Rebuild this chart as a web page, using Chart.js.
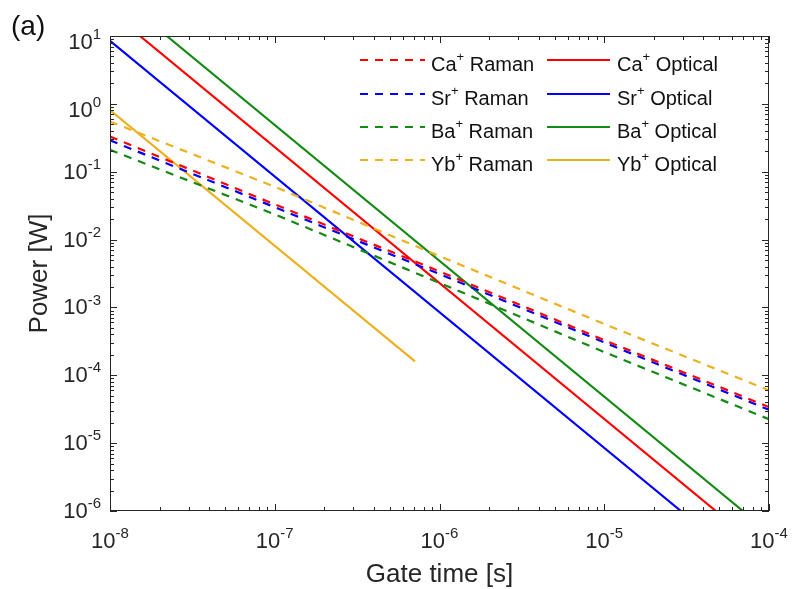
<!DOCTYPE html>
<html>
<head>
<meta charset="utf-8">
<title>Power vs gate time</title>
<script src="https://cdn.jsdelivr.net/npm/chart.js@4.4.0/dist/chart.umd.min.js"></script>
<style>
	html, body { margin: 0; padding: 0; background: #fff; }
	canvas { display: block; }
</style>
</head>
<body>
<canvas id="chart" width="792" height="589"></canvas>
<script>
(() => {
	'use strict'

	// Gate times (s) where the Raman curves are sampled
	const ramanTimes = [1e-8, 1e-7, 1e-6, 1e-5, 1e-4];

	// Raman laser power (W)
	const caRaman = [0.33, 0.033, 3.4e-3, 3.3e-4, 3.4e-5];
	const srRaman = [0.29, 0.030, 3.1e-3, 3.05e-4, 3.1e-5];
	const baRaman = [0.21, 0.0235, 2.3e-3, 2.2e-4, 2.25e-5];
	const ybRaman = [0.55, 0.060, 5.7e-3, 5.7e-4, 6.0e-5];

	// Optical (quadrupole) power: first and last point of each line
	const caOpticalTimes = [1.52e-8, 4.76e-5];
	const caOptical = [10, 1e-6];
	const srOpticalTimes = [1e-8, 2.92e-5];
	const srOptical = [8.5, 1e-6];
	const baOpticalTimes = [2.21e-8, 6.95e-5];
	const baOptical = [10, 1e-6];
	const ybOpticalTimes = [1e-8, 7.1e-7];
	const ybOptical = [0.81, 1.6e-4];

	// Ions, in legend order
	const ions = ['Ca', 'Sr', 'Ba', 'Yb'];

	// Decade exponents for the tick labels
	const xTickExps = [-8, -7, -6, -5, -4];
	const yTickExps = [-6, -5, -4, -3, -2, -1, 0, 1];

	const colors = {
		Ca: '#ff0000',
		Sr: '#0000ff',
		Ba: '#138a13',
		Yb: '#edb120'
	};
	const axisColor = '#262626';
	const fontFamily = '"Liberation Sans", Arial, Helvetica, sans-serif';

	// Pair up x and y arrays as {x, y} points
	function toPoints(xs, ys) {
		return xs.map((x, i) => ({ x: x, y: ys[i] }));
	}

	const ramanData = { Ca: caRaman, Sr: srRaman, Ba: baRaman, Yb: ybRaman };
	const opticalData = {
		Ca: [caOpticalTimes, caOptical],
		Sr: [srOpticalTimes, srOptical],
		Ba: [baOpticalTimes, baOptical],
		Yb: [ybOpticalTimes, ybOptical]
	};

	const datasets = [];
	ions.forEach(ion => {
		datasets.push({
			label: ion + '+ Raman',
			ion: ion,
			data: toPoints(ramanTimes, ramanData[ion]),
			borderColor: colors[ion],
			borderWidth: 2.2,
			borderDash: [8, 7],
		});
	});
	ions.forEach(ion => {
		datasets.push({
			label: ion + '+ Optical',
			ion: ion,
			data: toPoints(opticalData[ion][0], opticalData[ion][1]),
			borderColor: colors[ion],
			borderWidth: 2.2,
		});
	});

	// Draws "base" followed by a raised, smaller "sup"; returns the total width
	function drawSup(ctx, base, sup, x, y, baseSize, supSize, align, rise) {
		ctx.font = baseSize + 'px ' + fontFamily;
		const w1 = ctx.measureText(base).width;
		ctx.font = supSize + 'px ' + fontFamily;
		const w2 = ctx.measureText(sup).width;
		let start = x;
		if (align === 'center') start = x - (w1 + w2) / 2;
		if (align === 'right') start = x - (w1 + w2);
		ctx.textAlign = 'left';
		ctx.textBaseline = 'middle';
		ctx.font = baseSize + 'px ' + fontFamily;
		ctx.fillText(base, start, y);
		ctx.font = supSize + 'px ' + fontFamily;
		ctx.fillText(sup, start + w1, y - rise);
		return w1 + w2;
	}

	// White page behind the plot
	const background = {
		id: 'background',
		beforeDraw(chart) {
			const ctx = chart.ctx;
			ctx.save();
			ctx.fillStyle = '#ffffff';
			ctx.fillRect(0, 0, chart.width, chart.height);
			ctx.restore();
		}
	};

	// Boxed axes with inward ticks, power-of-ten labels, titles and legend
	const axesBox = {
		id: 'axesBox',
		afterDatasetsDraw(chart) {
			const ctx = chart.ctx;
			const xs = chart.scales.x;
			const ys = chart.scales.y;
			const { left, right, top, bottom } = chart.chartArea;
			ctx.save();

			// box
			ctx.strokeStyle = axisColor;
			ctx.lineWidth = 1;
			ctx.strokeRect(left + 0.5, top + 0.5, right - left - 1, bottom - top - 1);

			// ticks on all four sides
			ctx.beginPath();
			for (let e = xTickExps[0]; e <= xTickExps[xTickExps.length - 1]; e++) {
				for (let m = 1; m <= 9; m++) {
					const v = m * Math.pow(10, e);
					if (v > xs.max * 1.0001) break;
					const px = Math.round(xs.getPixelForValue(v)) + 0.5;
					const len = m === 1 ? 7 : 4;
					ctx.moveTo(px, bottom);
					ctx.lineTo(px, bottom - len);
					ctx.moveTo(px, top);
					ctx.lineTo(px, top + len);
				}
			}
			for (let e = yTickExps[0]; e <= yTickExps[yTickExps.length - 1]; e++) {
				for (let m = 1; m <= 9; m++) {
					const v = m * Math.pow(10, e);
					if (v > ys.max * 1.0001) break;
					const py = Math.round(ys.getPixelForValue(v)) + 0.5;
					const len = m === 1 ? 7 : 4;
					ctx.moveTo(left, py);
					ctx.lineTo(left + len, py);
					ctx.moveTo(right, py);
					ctx.lineTo(right - len, py);
				}
			}
			ctx.stroke();

			// tick labels
			ctx.fillStyle = axisColor;
			xTickExps.forEach(e => {
				const px = xs.getPixelForValue(Math.pow(10, e));
				drawSup(ctx, '10', String(e), px, bottom + 31, 22, 15, 'center', 8);
			});
			yTickExps.forEach(e => {
				const py = ys.getPixelForValue(Math.pow(10, e));
				const dy = e >= 0 ? 7 : 1;
				drawSup(ctx, '10', String(e), left - 9, py + dy, 22, 15, 'right', 8);
			});

			// axis titles
			ctx.font = '26px ' + fontFamily;
			ctx.textAlign = 'center';
			ctx.textBaseline = 'middle';
			ctx.fillText('Gate time [s]', (left + right) / 2, bottom + 64);
			ctx.save();
			ctx.translate(40, (top + bottom) / 2);
			ctx.rotate(-Math.PI / 2);
			ctx.fillText('Power [W]', 0, 0);
			ctx.restore();

			// panel tag
			ctx.font = '28px ' + fontFamily;
			ctx.textAlign = 'left';
			ctx.fillStyle = '#111111';
			ctx.fillText('(a)', 11, 27);

			// legend: Raman column, then Optical column
			const rowY = [60, 94, 127, 160];
			const columns = [
				{ x0: 360, x1: 425, tx: 431, kind: 'Raman' },
				{ x0: 547, x1: 610, tx: 617, kind: 'Optical' }
			];
			columns.forEach(col => {
				chart.data.datasets
					.filter(ds => ds.label.endsWith(col.kind))
					.forEach((ds, i) => {
						const y = rowY[i];
						ctx.strokeStyle = ds.borderColor;
						ctx.lineWidth = ds.borderWidth;
						ctx.setLineDash(ds.borderDash || []);
						ctx.beginPath();
						ctx.moveTo(col.x0, y);
						ctx.lineTo(col.x1, y);
						ctx.stroke();
						ctx.setLineDash([]);
						ctx.fillStyle = '#111111';
						const w = drawSup(ctx, ds.ion, '+', col.tx, y + 5, 20, 13, 'left', 8);
						ctx.font = '20px ' + fontFamily;
						ctx.fillText(' ' + col.kind, col.tx + w, y + 5);
					});
			});

			ctx.restore();
		}
	};

	const config = {
		type: 'line',
		data: { datasets: datasets },
		options: {
			responsive: false,
			animation: false,
			elements: {
				point: { radius: 0 },
				line: { tension: 0 }
			},
			layout: {
				padding: { left: 110, top: 36, right: 23, bottom: 78 }
			},
			scales: {
				x: {
					type: 'logarithmic',
					min: 1e-8,
					max: 1e-4,
					display: false
				},
				y: {
					type: 'logarithmic',
					min: 1e-6,
					max: 10,
					display: false
				}
			},
			plugins: {
				legend: { display: false },
				title: { display: false },
				tooltip: { enabled: false }
			}
		},
		plugins: [background, axesBox]
	};

	const myChart = new Chart(document.getElementById('chart'), config);
})()
</script>
</body>
</html>
